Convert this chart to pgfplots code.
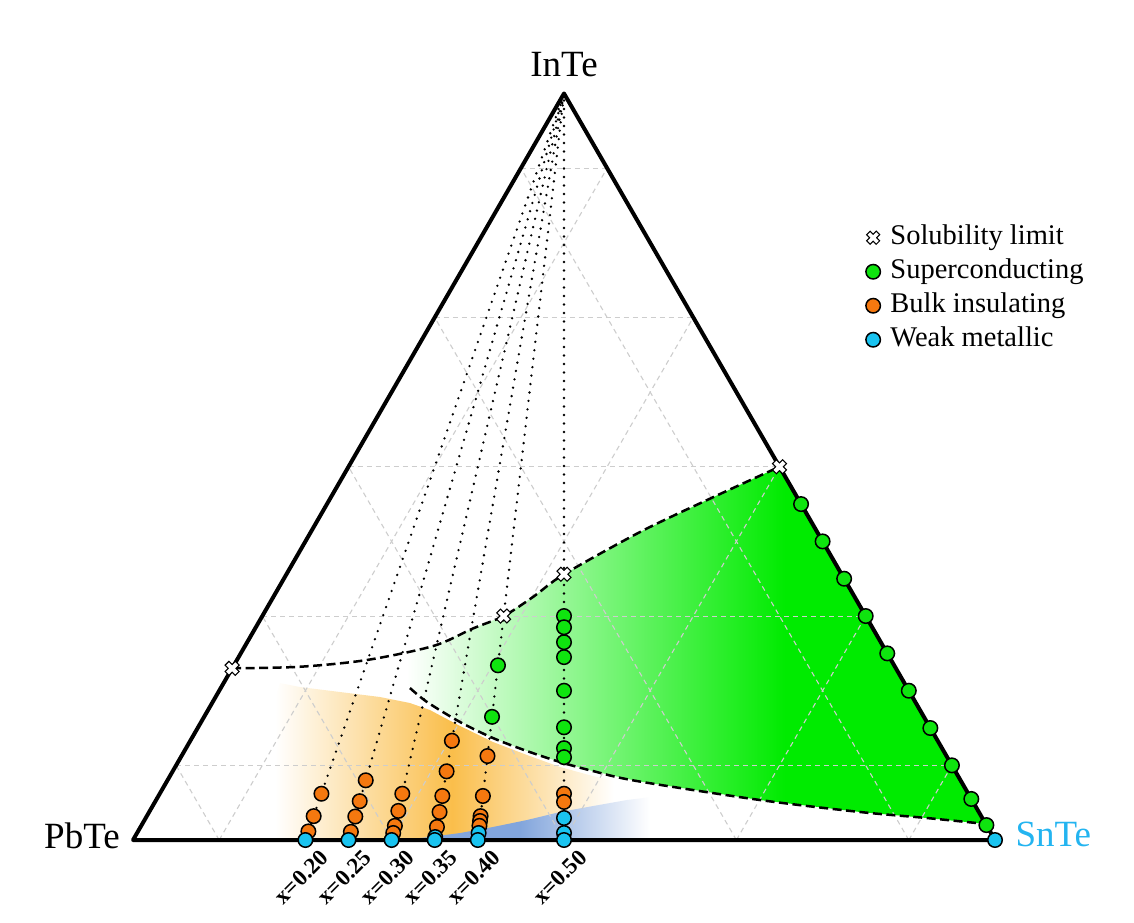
\documentclass[border=0pt]{standalone}
\usepackage{fontspec}
\setmainfont{Liberation Serif}
\usepackage{pgfplots}
\usepackage{pgfplotstable}
\pgfplotsset{compat=1.18}

\definecolor{mgreen}{RGB}{15,228,15}
\definecolor{gfill}{RGB}{0,235,0}
\definecolor{morange}{RGB}{245,120,15}
\definecolor{ofill}{RGB}{250,190,75}
\definecolor{mblue}{RGB}{25,195,240}
\definecolor{sntec}{RGB}{35,180,240}
\definecolor{bfill}{RGB}{130,165,220}
\definecolor{gridc}{RGB}{205,205,205}

\pgfdeclarehorizontalshading{greenfade}{100bp}{color(0bp)=(white); color(25bp)=(white); color(26bp)=(white); color(58bp)=(gfill); color(100bp)=(gfill)}
\pgfdeclarehorizontalshading{orangefade}{100bp}{color(0bp)=(white); color(25bp)=(white); color(48bp)=(ofill); color(69bp)=(white); color(100bp)=(white)}
\pgfdeclarehorizontalshading{bluefade}{100bp}{color(0bp)=(bfill); color(25bp)=(bfill); color(48bp)=(bfill); color(73bp)=(white); color(100bp)=(white)}

% ternary mapping: x = SnTe/(SnTe+PbTe), c = InTe fraction
\pgfplotsset{
  table/tern/.style={x expr={\thisrow{x}*(1-\thisrow{c})+0.5*\thisrow{c}}, y expr={0.8660254*\thisrow{c}}},
  gridl/.style={forget plot, color=gridc, line width=1.1pt, dash pattern=on 5pt off 4pt},
  dotl/.style={forget plot, black, line width=2.6pt, line cap=round, dash pattern=on 0pt off 8.5pt},
  dashl/.style={forget plot, black, line width=2.5pt, dash pattern=on 9pt off 4.5pt, smooth},
  circ/.style={forget plot, only marks, mark=*, mark size=7.25pt, mark options={draw=black, line width=1.5pt, fill=#1}},
}
\tikzset{xlab/.style={xshift=19pt, yshift=-14pt, rotate=45, anchor=east, inner sep=0pt, font=\fontsize{23}{23}\selectfont\bfseries}}

\pgfplotstableread{
x c
0.5 0.300
0.5 0.285
0.5 0.265
0.5 0.245
0.5 0.200
0.5 0.151
0.5 0.123
0.5 0.111
0.4 0.234
0.4 0.165
1 0.45
1 0.40
1 0.35
1 0.30
1 0.25
1 0.20
1 0.15
1 0.10
1 0.055
1 0.02
}\supercond

\pgfplotstableread{
x c
0.5 0.062
0.5 0.051
0.4 0.1125
0.4 0.059
0.4 0.032
0.4 0.0255
0.4 0.019
0.35 0.133
0.35 0.092
0.35 0.059
0.35 0.0375
0.35 0.0175
0.30 0.062
0.30 0.039
0.30 0.019
0.30 0.0094
0.25 0.080
0.25 0.052
0.25 0.0315
0.25 0.011
0.20 0.062
0.20 0.032
0.20 0.0115
}\insul

\pgfplotstableread{
x c
0.5 0.0295
0.5 0.0094
0.5 0
0.4 0.0094
0.4 0
0.35 0.004
0.35 0
0.30 0
0.25 0
0.20 0
1 0
}\weakmet

\pgfplotstableread{
x c
0 0.23
0.4 0.30
0.5 0.356
1 0.50
}\solub

\begin{document}
\begin{tikzpicture}
\begin{axis}[
  width=1134pt, height=922pt, scale only axis,
  xmin=-0.154292, xmax=1.161253, ymin=-0.095128, ymax=0.974478,
  hide axis, clip=false,
  legend cell align=left,
  legend style={at={(axis cs:0.850,0.714)}, anchor=north west, draw=none, fill=none,
    inner sep=0pt, row sep=8pt, column sep=10pt,
    font=\fontsize{28.5}{30}\selectfont,
    nodes={inner sep=0pt, text height=20pt, text depth=6pt}},
]
% ---- shaded regions
\addplot[forget plot, draw=none, shade, shading=orangefade] coordinates {
(0.1647,0) (0.1659,0.1682) (0.1705,0.1821) (0.1937,0.1775) (0.2401,0.1717) (0.2865,0.1659)
(0.3213,0.1589) (0.3445,0.1508) (0.3619,0.1415) (0.3794,0.1323) (0.4176,0.1137) (0.4571,0.0986)
(0.4954,0.0847) (0.5336,0.0742) (0.5847,0.0626) (0.6114,0.0580) (0.6114,0)} -- cycle;
\addplot[forget plot, draw=none, shade, shading=bluefade] coordinates {
(0.3097,0) (0.3445,0.0035) (0.3794,0.0081) (0.4176,0.0151) (0.4571,0.0232) (0.4954,0.0325)
(0.5336,0.0394) (0.5731,0.0464) (0.6114,0.0510) (0.6114,0)} -- cycle;
\addplot[forget plot, draw=none, shade, shading=greenfade] coordinates {
(0.3039,0.2158) (0.3484,0.2251) (0.3948,0.2456) (0.43,0.2598) (0.4644,0.2822) (0.5,0.3083)
(0.5882,0.3573) (0.6659,0.3944) (0.75,0.4330) (0.9896,0.0186) (0.9211,0.0255) (0.8434,0.0325) (0.7274,0.0464)
(0.5847,0.0684) (0.5336,0.0800) (0.4954,0.0905) (0.4571,0.1032) (0.4176,0.1183) (0.3794,0.1369)
(0.3411,0.1601) (0.3213,0.1763)} -- cycle;
% ---- grid (odd tenths)
\addplot[gridl] coordinates {(0.05,0.0866) (0.95,0.0866)};
\addplot[gridl] coordinates {(0.15,0.2598) (0.85,0.2598)};
\addplot[gridl] coordinates {(0.25,0.4330) (0.75,0.4330)};
\addplot[gridl] coordinates {(0.35,0.6062) (0.65,0.6062)};
\addplot[gridl] coordinates {(0.45,0.7794) (0.55,0.7794)};
\addplot[gridl] coordinates {(0.1,0) (0.55,0.7794)};
\addplot[gridl] coordinates {(0.3,0) (0.65,0.6062)};
\addplot[gridl] coordinates {(0.5,0) (0.75,0.4330)};
\addplot[gridl] coordinates {(0.7,0) (0.85,0.2598)};
\addplot[gridl] coordinates {(0.9,0) (0.95,0.0866)};
\addplot[gridl] coordinates {(0.9,0) (0.45,0.7794)};
\addplot[gridl] coordinates {(0.7,0) (0.35,0.6062)};
\addplot[gridl] coordinates {(0.5,0) (0.25,0.4330)};
\addplot[gridl] coordinates {(0.3,0) (0.15,0.2598)};
\addplot[gridl] coordinates {(0.1,0) (0.05,0.0866)};
% ---- triangle
\addplot[forget plot, black, line width=4pt, line join=round] coordinates {(0,0) (1,0) (0.5,0.8660254)} -- cycle;
% ---- dotted composition lines
\addplot[dotl] table[tern, row sep=\\] {x c\\ 0.20 0\\ 0.20 1\\};
\addplot[dotl] table[tern, row sep=\\] {x c\\ 0.25 0\\ 0.25 1\\};
\addplot[dotl] table[tern, row sep=\\] {x c\\ 0.30 0\\ 0.30 1\\};
\addplot[dotl] table[tern, row sep=\\] {x c\\ 0.35 0\\ 0.35 1\\};
\addplot[dotl] table[tern, row sep=\\] {x c\\ 0.40 0\\ 0.40 1\\};
\addplot[dotl] table[tern, row sep=\\] {x c\\ 0.50 0\\ 0.50 1\\};
% ---- boundaries
\addplot[dashl] coordinates {(0.115,0.1992) (0.1937,0.2010) (0.2711,0.2088) (0.3484,0.2251) (0.3948,0.2456) (0.43,0.2598) (0.4644,0.2822) (0.5,0.3083) (0.5882,0.3573) (0.6659,0.3944) (0.75,0.4330)};
\addplot[dashl] coordinates {(0.3213,0.1763) (0.3411,0.1601) (0.3794,0.1369) (0.4176,0.1183) (0.4571,0.1032) (0.4954,0.0905) (0.5336,0.0800) (0.5847,0.0684) (0.7274,0.0464) (0.8434,0.0325) (0.9211,0.0255) (0.9896,0.0186)};
% ---- data points
\addplot[circ=mgreen] table[tern] {\supercond};
\addplot[circ=morange] table[tern] {\insul};
\addplot[circ=mblue] table[tern] {\weakmet};
\addplot[forget plot, only marks, mark=x, mark size=4.5pt, mark options={draw=black, line width=6.5pt, line cap=rect}] table[tern] {\solub};
\addplot[forget plot, only marks, mark=x, mark size=4.5pt, mark options={draw=white, line width=4pt, line cap=rect}] table[tern] {\solub};
% ---- legend
\addlegendimage{legend image code/.code={
  \draw[black, line width=6pt, line cap=rect] plot[mark=x, mark size=4.3pt] coordinates {(0pt,0pt)};
  \draw[white, line width=3.6pt, line cap=rect] plot[mark=x, mark size=4.3pt] coordinates {(0pt,0pt)};}}
\addlegendentry{Solubility limit}
\addlegendimage{legend image code/.code={\draw[black, line width=1.5pt, fill=mgreen] plot[mark=*, mark size=7.25pt] coordinates {(0pt,0pt)};}}
\addlegendentry{Superconducting}
\addlegendimage{legend image code/.code={\draw[black, line width=1.5pt, fill=morange] plot[mark=*, mark size=7.25pt] coordinates {(0pt,0pt)};}}
\addlegendentry{Bulk insulating}
\addlegendimage{legend image code/.code={\draw[black, line width=1.5pt, fill=mblue] plot[mark=*, mark size=7.25pt] coordinates {(0pt,0pt)};}}
\addlegendentry{Weak metallic}
% ---- labels
\node[font=\fontsize{37}{37}\selectfont] at (axis cs:0.5,0.8997) {InTe};
\node[font=\fontsize{37}{37}\selectfont] at (axis cs:-0.0592,0.0049) {PbTe};
\node[font=\fontsize{37}{37}\selectfont, text=sntec] at (axis cs:1.0676,0.0061) {SnTe};
\node[xlab] at (axis cs:0.20,0) {x=0.20};
\node[xlab] at (axis cs:0.25,0) {x=0.25};
\node[xlab] at (axis cs:0.30,0) {x=0.30};
\node[xlab] at (axis cs:0.35,0) {x=0.35};
\node[xlab] at (axis cs:0.40,0) {x=0.40};
\node[xlab] at (axis cs:0.50,0) {x=0.50};
\end{axis}
\path (current axis.south west) rectangle (current axis.north east);
\end{tikzpicture}
\end{document}
